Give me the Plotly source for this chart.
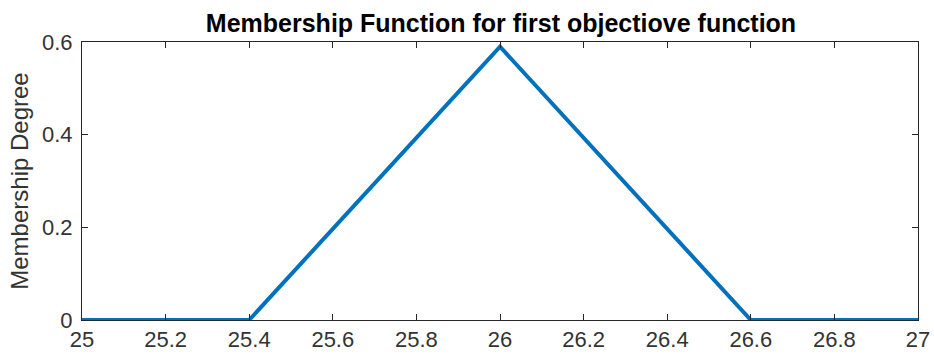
import plotly.graph_objects as go

x_vals = [25.0, 25.4, 26.0, 26.6, 27.0]
membership = [0.0, 0.0, 0.59, 0.0, 0.0]
x_ticks = [25, 25.2, 25.4, 25.6, 25.8, 26, 26.2, 26.4, 26.6, 26.8, 27]
x_tick_labels = ["25", "25.2", "25.4", "25.6", "25.8", "26", "26.2", "26.4", "26.6", "26.8", "27"]
y_ticks = [0, 0.2, 0.4, 0.6]
y_tick_labels = ["0", "0.2", "0.4", "0.6"]

FONT = "Liberation Sans, Arial, sans-serif"

fig = go.Figure()
fig.add_trace(go.Scatter(x=x_vals, y=membership, mode="lines",
                         line=dict(color="#0072BD", width=4), showlegend=False))

axis_common = dict(showgrid=False, zeroline=False, showline=True, mirror="ticks",
                   linecolor="#262626", linewidth=1, ticks="inside", ticklen=6,
                   tickcolor="#262626", automargin=False,
                   tickfont=dict(family=FONT, size=22, color="#333333"))

fig.update_layout(
    width=934, height=354,
    margin=dict(l=82, r=16, t=42, b=34),
    paper_bgcolor="white", plot_bgcolor="white",
    title=dict(text="<b>Membership Function for first objectiove function</b>",
               x=(205 + 797) / 2 / 934, xanchor="center", y=1 - 23/354, yanchor="middle",
               font=dict(family=FONT, size=25, color="#000000")),
    xaxis=dict(range=[25, 27], tickvals=x_ticks, ticktext=x_tick_labels, ticklabelstandoff=0, **axis_common),
    yaxis=dict(range=[0, 0.6], tickvals=y_ticks, ticktext=y_tick_labels, ticklabelstandoff=4,
               title=dict(text="Membership Degree", standoff=6,
                          font=dict(family=FONT, size=24, color="#333333")),
               **axis_common),
)

fig.write_html("out.html", config={"displayModeBar": False},
               post_script="document.body.style.margin='0';document.body.style.overflow='hidden';")
